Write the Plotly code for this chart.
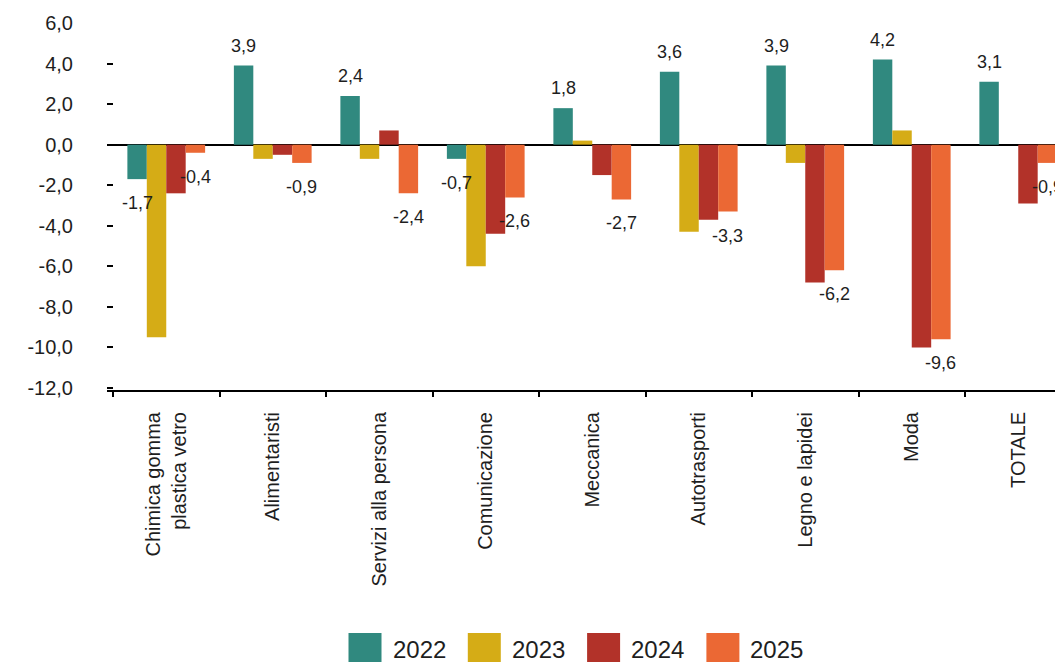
import plotly.graph_objects as go

categories = ["Chimica gomma<br>plastica vetro", "Alimentaristi", "Servizi alla persona",
              "Comunicazione", "Meccanica", "Autotrasporti", "Legno e lapidei", "Moda", "TOTALE"]
years = ["2022", "2023", "2024", "2025"]
v2022 = [-1.7, 3.9, 2.4, -0.7, 1.8, 3.6, 3.9, 4.2, 3.1]
v2023 = [-9.5, -0.7, -0.7, -6.0, 0.2, -4.3, -0.9, 0.7, 0.0]
v2024 = [-2.4, -0.5, 0.7, -4.4, -1.5, -3.7, -6.8, -10.0, -2.9]
v2025 = [-0.4, -0.9, -2.4, -2.6, -2.7, -3.3, -6.2, -9.6, -0.9]
series = [v2022, v2023, v2024, v2025]
labelled = [True, False, False, True]
colors = ["#30897F", "#D5AC16", "#B23229", "#EB6834"]
ytick_vals = [6, 4, 2, 0, -2, -4, -6, -8, -10, -12]
ytick_text = ["6,0", "4,0", "2,0", "0,0", "-2,0", "-4,0", "-6,0", "-8,0", "-10,0", "-12,0"]

FONT = "Liberation Sans Narrow, Arial Narrow, Liberation Sans, Arial, sans-serif"
TXT = "#1e1e1e"
W, H = 1055, 662
ML, MR, MT, MB = 107, 0, 23, 272
BARGAP = 0.27
CAT_PX = 106.5
x0 = -0.5 - 6 / CAT_PX
x1 = x0 + (W - ML - MR) / CAT_PX

def fmt(v):
    return f"{v:.1f}".replace(".", ",")

fig = go.Figure()
idx = list(range(len(categories)))
for k, (yr, vals) in enumerate(zip(years, series)):
    fig.add_trace(go.Bar(x=idx, y=vals, name=yr, marker=dict(color=colors[k], line=dict(width=0)),
                         showlegend=False, hoverinfo="skip"))

annotations = []
bw = (1 - BARGAP) / len(years)
for k, vals in enumerate(series):
    if not labelled[k]:
        continue
    off = (k - (len(years) - 1) / 2) * bw
    for i, v in enumerate(vals):
        annotations.append(dict(x=i + off, y=v, xref="x", yref="y", text=fmt(v), showarrow=False,
                                xanchor="center", yanchor="middle", yshift=20 if v > 0 else -24,
                                font=dict(family=FONT, size=18, color=TXT)))

# custom legend (large swatches)
def px_x(p):
    return (p - ML) / (W - ML - MR)

def px_y(p):
    return 1 - (p - MT) / (H - MT - MB)

leg_x0, leg_step = 348.5, 119.3
for k, yr in enumerate(years):
    bx = leg_x0 + k * leg_step
    fig.add_shape(type="rect", xref="paper", yref="paper", x0=px_x(bx), x1=px_x(bx + 33),
                  y0=px_y(665), y1=px_y(633), fillcolor=colors[k], line=dict(width=0), layer="above")
    annotations.append(dict(x=px_x(bx + 42), y=px_y(649), xref="paper", yref="paper", text=yr,
                            showarrow=False, xanchor="left", yanchor="middle",
                            font=dict(family=FONT, size=24, color=TXT)))

fig.update_layout(
    template="none",
    width=W, height=H,
    margin=dict(l=ML, r=MR, t=MT, b=MB, autoexpand=False),
    paper_bgcolor="white", plot_bgcolor="white",
    barmode="group", bargap=BARGAP, bargroupgap=0,
    showlegend=False,
    annotations=annotations,
    font=dict(family=FONT, color=TXT),
)
fig.update_xaxes(
    type="category",
    tickvals=idx, ticktext=categories,
    range=[x0, x1], automargin=False,
    showline=True, linecolor="black", linewidth=2,
    ticks="outside", tickson="boundaries", ticklen=5, tickwidth=2, tickcolor="black",
    tickangle=-90, tickfont=dict(family=FONT, size=20, color=TXT),
    ticklabelstandoff=12, showgrid=False, zeroline=False,
)
fig.update_yaxes(
    range=[-12.1, 6.0], automargin=False,
    tickvals=ytick_vals, ticktext=ytick_text,
    ticks="inside", ticklen=6, tickwidth=2, tickcolor="black",
    tickfont=dict(family=FONT, size=20, color=TXT), ticklabelstandoff=33,
    showline=False, showgrid=False,
    zeroline=True, zerolinecolor="black", zerolinewidth=2,
)

fig.write_html("out.html", config={"displayModeBar": False},
               post_script="document.body.style.margin='0';document.body.style.overflow='hidden';")
